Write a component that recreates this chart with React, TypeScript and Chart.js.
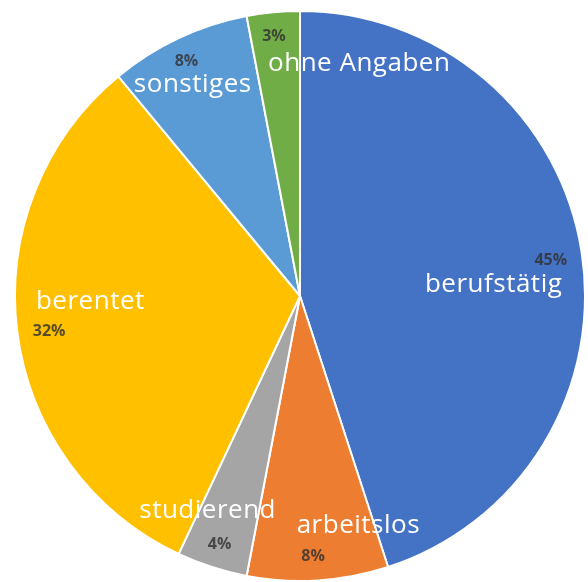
import React, { useEffect, useRef } from "react";
import { Chart, registerables } from "chart.js";

Chart.register(...registerables);

const categories = ["berufstätig", "arbeitslos", "studierend", "berentet", "sonstiges", "ohne Angaben"];
const values = [45, 8, 4, 32, 8, 3];
const colors = ["#4472C4", "#ED7D31", "#A5A5A5", "#FFC000", "#5B9BD5", "#70AD47"];
// label anchor offsets in units of the pie radius (name, percent)
const nameOffsets = [[0.677, -0.039], [0.204, 0.804], [-0.323, 0.751], [-0.733, 0.021], [-0.375, -0.74], [0.207, -0.811]];
const pctOffsets = [[0.877, -0.126], [0.046, 0.912], [-0.281, 0.867], [-0.877, 0.123], [-0.397, -0.819], [-0.091, -0.909]];

const labelPlugin = {
  id: "sliceLabels",
  afterDatasetsDraw(chart: any) {
    const meta = chart.getDatasetMeta(0);
    const arc0 = meta.data[0];
    if (!arc0) return;
    const cx = arc0.x, cy = arc0.y, r = arc0.outerRadius + 1;
    const ctx = chart.ctx;
    ctx.save();
    ctx.textAlign = "center";
    ctx.textBaseline = "middle";
    values.forEach((v, i) => {
      ctx.font = "26px 'Open Sans', sans-serif";
      (ctx as any).letterSpacing = "0.5px";
      ctx.fillStyle = "#ffffff";
      ctx.fillText(categories[i], cx + nameOffsets[i][0] * r, cy + nameOffsets[i][1] * r);
      (ctx as any).letterSpacing = "0px";
      ctx.font = "bold 16px 'Open Sans', sans-serif";
      ctx.fillStyle = "rgba(50,50,50,0.82)";
      ctx.fillText(v + "%", cx + pctOffsets[i][0] * r, cy + pctOffsets[i][1] * r);
    });
    ctx.restore();
  },
};

export default function App() {
  const ref = useRef<HTMLCanvasElement>(null);
  useEffect(() => {
    if (!ref.current) return;
    const chart = new Chart(ref.current, {
      type: "pie",
      data: {
        labels: categories,
        datasets: [
          {
            data: values,
            backgroundColor: colors,
            borderColor: "#ffffff",
            borderWidth: 2,
          },
        ],
      },
      options: {
        responsive: false,
        animation: false,
        layout: { padding: { left: 14, right: 2, top: 10, bottom: 0 } },
        plugins: {
          legend: { display: false },
          tooltip: { enabled: false },
        },
      },
      plugins: [labelPlugin],
    });
    return () => chart.destroy();
  }, []);
  return (
    <div style={{ position: "fixed", left: 0, top: 0, width: 588, height: 582, background: "#fff" }}>
      <canvas ref={ref} width={588} height={582} style={{ width: 588, height: 582 }} />
    </div>
  );
}
